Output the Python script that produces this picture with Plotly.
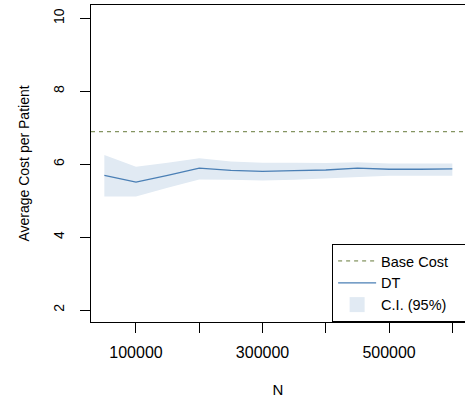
import plotly.graph_objects as go

# Data
n_values = [50000, 100000, 150000, 200000, 250000, 300000, 350000, 400000,
            450000, 500000, 550000, 600000]
dt_mean = [5.69, 5.51, 5.69, 5.89, 5.83, 5.80, 5.82, 5.84, 5.89, 5.86, 5.86, 5.87]
ci_upper = [6.25, 5.93, 6.04, 6.16, 6.07, 6.04, 6.04, 6.03, 6.05, 6.02, 6.02, 6.02]
ci_lower = [5.11, 5.11, 5.35, 5.58, 5.57, 5.55, 5.57, 5.61, 5.66, 5.68, 5.68, 5.68]
base_cost = 6.89
x_ticks = [100000, 200000, 300000, 400000, 500000, 600000]
x_ticklabels = ["100000", "", "300000", "", "500000", ""]
y_ticks = [2, 4, 6, 8, 10]

FONT = "Liberation Sans, Arial, Helvetica, sans-serif"
LINE_COLOR = "#4a7fb5"
BAND_COLOR = "#e1eaf3"
BASE_COLOR = "#667a3a"
PAD = "\u00a0" * 3  # trailing padding so the legend box extends past the right edge

fig = go.Figure()

fig.add_trace(go.Scatter(
    x=n_values, y=ci_lower, mode="lines", line=dict(width=0, color=BAND_COLOR),
    showlegend=False, hoverinfo="skip"))
fig.add_trace(go.Scatter(
    x=n_values, y=ci_upper, mode="lines", line=dict(width=0, color=BAND_COLOR),
    fill="tonexty", fillcolor=BAND_COLOR, showlegend=False))
fig.add_trace(go.Scatter(
    x=n_values, y=dt_mean, mode="lines", line=dict(width=1.3, color=LINE_COLOR),
    name="DT", legendrank=2))
# legend entry for the confidence band (square swatch)
fig.add_trace(go.Scatter(
    x=[None], y=[None], mode="markers",
    marker=dict(symbol="square", size=15, color=BAND_COLOR),
    name="C.I. (95%)", legendrank=3))

fig.add_shape(type="line", xref="paper", x0=0, x1=1, yref="y", y0=base_cost, y1=base_cost,
              line=dict(color=BASE_COLOR, width=1, dash="4px,4px"),
              showlegend=True, name="Base Cost" + PAD, legendrank=1)

fig.update_layout(
    width=465, height=403,
    margin=dict(l=91, r=0, t=5, b=81, autoexpand=False),
    plot_bgcolor="white", paper_bgcolor="white",
    font=dict(family=FONT, size=15, color="black"),
    showlegend=True,
    legend=dict(x=1.003, y=0, xanchor="right", yanchor="bottom",
                bordercolor="black", borderwidth=1, bgcolor="white",
                font=dict(size=14.5), tracegroupgap=0, itemwidth=38,
                traceorder="normal"),
    xaxis=dict(range=[28900, 620000], tickvals=x_ticks, ticktext=x_ticklabels,
               ticks="outside", ticklen=10, tickcolor="black", tickwidth=1,
               tickfont=dict(size=16),
               showline=True, linecolor="black", linewidth=1, mirror=True,
               showgrid=False, zeroline=False, automargin=False,
               title=dict(text="N", standoff=24, font=dict(size=15)), ticklabelstandoff=6),
    yaxis=dict(range=[1.671, 10.365], tickvals=y_ticks, ticks="outside", ticklen=10,
               tickcolor="black", tickwidth=1, tickangle=-90, tickfont=dict(size=14),
               showline=True, linecolor="black", linewidth=1, mirror=True,
               showgrid=False, zeroline=False, automargin=False,
               title=dict(text="Average Cost per Patient", standoff=18, font=dict(size=14)),
               ticklabelstandoff=10),
)

fig.write_html("out.html", post_script="document.body.style.margin='0px';",
               config={"displayModeBar": False})
